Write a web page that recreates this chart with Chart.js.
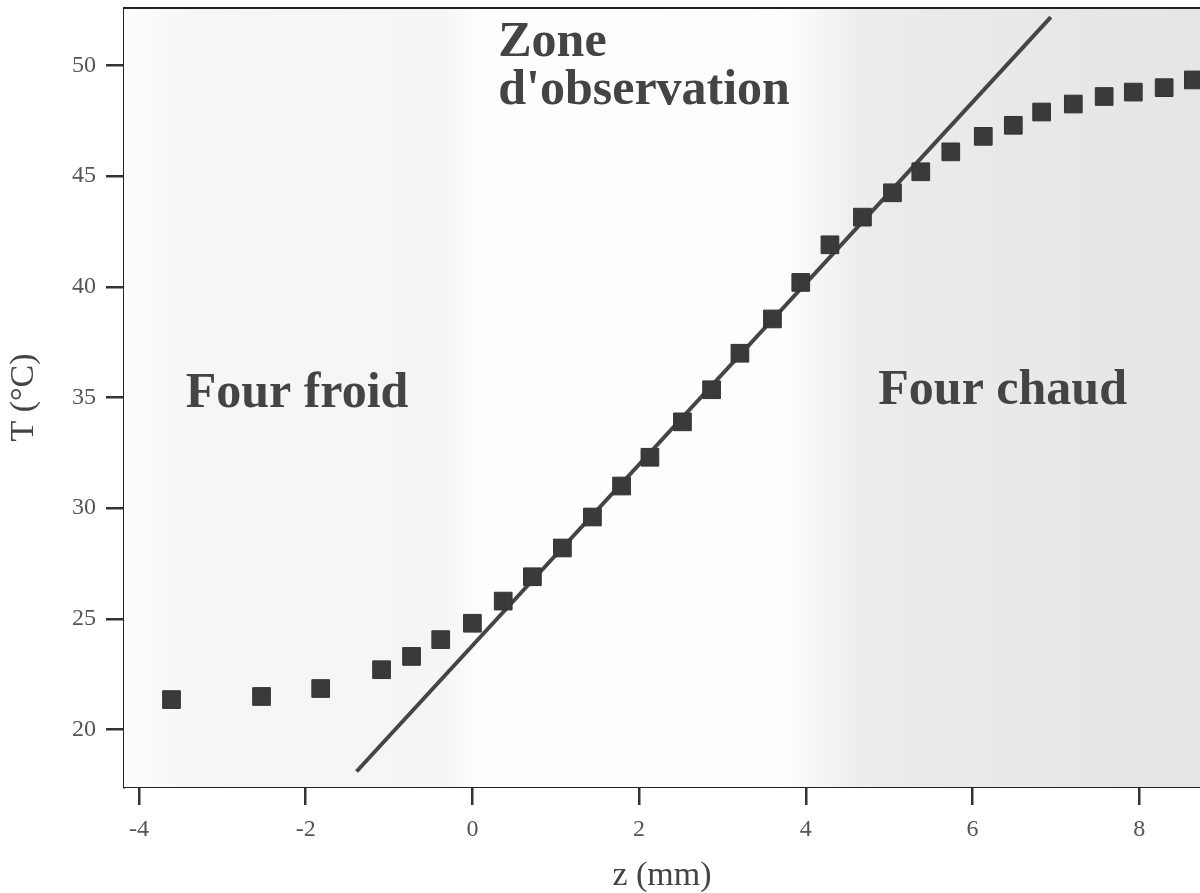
<!DOCTYPE html>
<html>
<head>
<meta charset="utf-8">
<script src="https://cdn.jsdelivr.net/npm/chart.js@4/dist/chart.umd.min.js"></script>
<style>
  html, body { margin: 0; padding: 0; background: #fff; }
  #wrap { width: 1200px; height: 893px; }
</style>
</head>
<body>
<div id="wrap"><canvas id="profil"></canvas></div>
<script>
// mesures (z en mm, T en °C)
const zMesures = [-3.61, -2.53, -1.82, -1.09, -0.73, -0.38, 0.0, 0.37, 0.72, 1.08, 1.44, 1.79, 2.13, 2.52, 2.87, 3.21,
    3.60, 3.94, 4.29, 4.68, 5.04, 5.38, 5.74, 6.13, 6.49, 6.83, 7.21, 7.58, 7.93, 8.30, 8.65];
const tMesures = [21.35, 21.49, 21.85, 22.7, 23.3, 24.06, 24.8, 25.8, 26.9, 28.2, 29.6, 31.0, 32.3, 33.9, 35.35, 37.0,
    38.55, 40.2, 41.9, 43.15, 44.25, 45.2, 46.1, 46.8, 47.3, 47.9, 48.26, 48.6, 48.8, 49.0, 49.35];

// droite d'ajustement
const zDroite = [-1.39, 6.94];
const tDroite = [18.1, 52.19];

const xTicks = [-4, -2, 0, 2, 4, 6, 8];
const yTicks = [20, 25, 30, 35, 40, 45, 50];

// textes dans la zone du graphe (position en coordonnées des données, ligne de base)
const zoneTextes = ['Zone', "d'observation", 'Four froid', 'Four chaud'];
const zoneX = [0.31, 0.31, -3.44, 4.87];
const zoneY = [50.43, 48.26, 34.58, 34.72];

const serif = "'Liberation Serif', 'DejaVu Serif', serif";

// fond du graphe + cadre du haut + textes
const fondPlugin = {
    id: 'fond',
    beforeDatasetsDraw(chart) {
        const { ctx, chartArea: a } = chart;
        const g = ctx.createLinearGradient(a.left, 0, a.right, 0);
        const w = a.right - a.left;
        g.addColorStop(0, '#fdfdfd');
        g.addColorStop(70 / w, '#f6f6f6');
        g.addColorStop(320 / w, '#f5f5f5');
        g.addColorStop(360 / w, '#fefefe');
        g.addColorStop(660 / w, '#fdfdfd');
        g.addColorStop(740 / w, '#ececec');
        g.addColorStop(1, '#e5e5e5');
        ctx.save();
        ctx.fillStyle = g;
        ctx.fillRect(a.left, a.top, w, a.bottom - a.top);
        ctx.restore();
    },
    afterDraw(chart) {
        const { ctx, chartArea: a, scales } = chart;
        ctx.save();
        ctx.strokeStyle = '#222';
        ctx.lineWidth = 2;
        ctx.beginPath();
        ctx.moveTo(a.left, a.top);
        ctx.lineTo(a.right, a.top);
        ctx.stroke();

        ctx.fillStyle = '#444';
        ctx.font = 'bold 50px ' + serif;
        ctx.textBaseline = 'alphabetic';
        ctx.textAlign = 'left';
        zoneTextes.forEach((txt, i) => {
            ctx.fillText(txt, scales.x.getPixelForValue(zoneX[i]), scales.y.getPixelForValue(zoneY[i]));
        });
        ctx.restore();
    }
};

const ctx = document.getElementById('profil').getContext('2d');
new Chart(ctx, {
    type: 'scatter',
    data: {
        datasets: [{
            type: 'line',
            label: 'ajustement',
            data: zDroite.map((z, i) => ({ x: z, y: tDroite[i] })),
            borderColor: '#454545',
            borderWidth: 4,
            pointRadius: 0,
            fill: false,
            order: 2
        }, {
            label: 'T mesurée',
            data: zMesures.map((z, i) => ({ x: z, y: tMesures[i] })),
            pointStyle: 'rect',
            pointRadius: 12.5,
            backgroundColor: '#3a3a3a',
            borderColor: '#333',
            borderWidth: 1,
            order: 1
        }]
    },
    options: {
        responsive: true,
        maintainAspectRatio: false,
        animation: false,
        layout: { autoPadding: false, padding: { top: 8, right: 0, left: 0, bottom: 0 } },
        plugins: {
            legend: { display: false },
            tooltip: { enabled: false }
        },
        scales: {
            x: {
                type: 'linear',
                min: -4.18,
                max: 8.73,
                afterBuildTicks: s => { s.ticks = xTicks.map(v => ({ value: v })); },
                afterFit: s => { s.height = 106; s.paddingLeft = 0; s.paddingRight = 0; },
                grid: { drawOnChartArea: false, drawTicks: true, tickLength: 18, color: '#333', lineWidth: 2.5 },
                border: { color: '#222', width: 2 },
                ticks: { color: '#555', font: { family: serif, size: 24 }, padding: 10, maxRotation: 0 },
                title: { display: true, text: 'z (mm)', color: '#444', font: { family: serif, size: 34, lineHeight: 1 }, padding: 0 }
            },
            y: {
                type: 'linear',
                min: 17.4,
                max: 52.6,
                afterBuildTicks: s => { s.ticks = yTicks.map(v => ({ value: v })); },
                afterFit: s => { s.width = 124; s.paddingTop = 0; s.paddingBottom = 0; },
                grid: { drawOnChartArea: false, drawTicks: true, tickLength: 18, color: '#333', lineWidth: 2.5 },
                border: { color: '#222', width: 2 },
                ticks: { color: '#555', font: { family: serif, size: 24 }, padding: 10 },
                title: { display: true, text: 'T (°C)', color: '#444', font: { family: serif, size: 34, lineHeight: 1 }, padding: { top: 7, bottom: 0 } }
            }
        }
    },
    plugins: [fondPlugin]
});
</script>
</body>
</html>
